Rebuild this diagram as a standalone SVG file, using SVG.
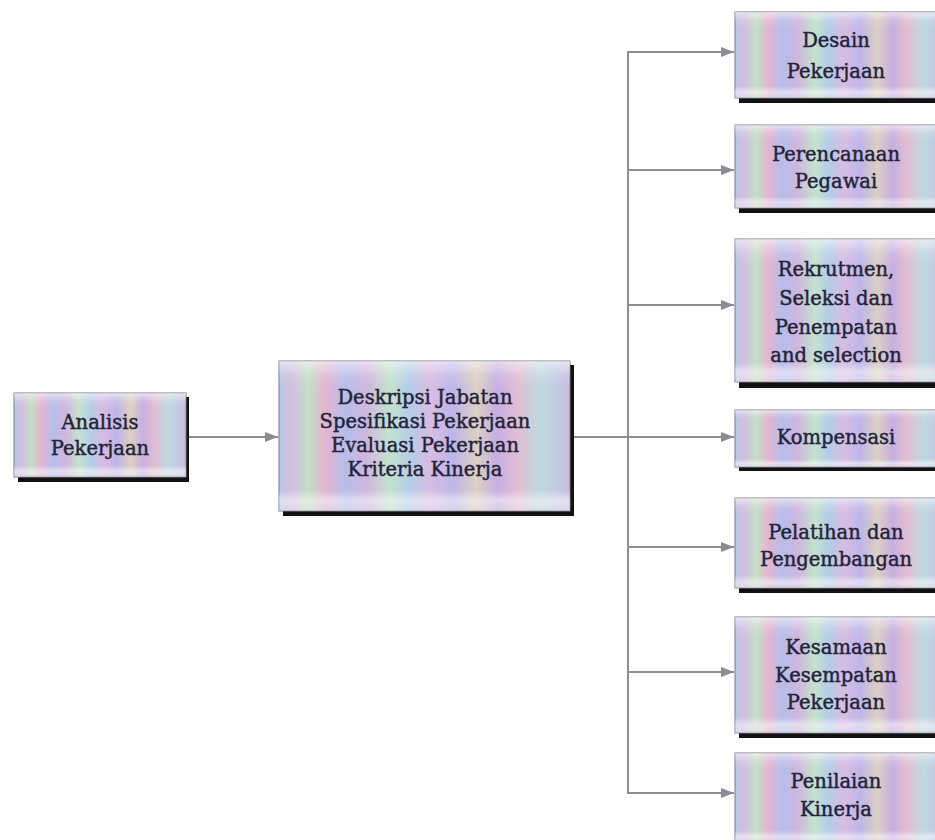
<svg xmlns="http://www.w3.org/2000/svg" width="935" height="840" viewBox="0 0 935 840">
<style>
.box{stroke:#7a7a86;stroke-width:1}
.shadow{fill:#111}
.gloss{fill:url(#gloss)}
.lbl{font-family:"DejaVu Serif","Liberation Serif",serif;font-size:19.5px;fill:#23233a;stroke:#23233a;stroke-width:0.45;text-anchor:middle}
.conn{stroke:#8c8c94;stroke-width:2;fill:none}
</style>
<defs>
<linearGradient id="rainbow" x1="0" y1="0" x2="1" y2="0">
<stop offset="0" stop-color="#b8c6e2"/>
<stop offset="0.05" stop-color="#d4bee2"/>
<stop offset="0.1" stop-color="#c2e0c6"/>
<stop offset="0.16" stop-color="#e4b4d0"/>
<stop offset="0.23" stop-color="#b4beea"/>
<stop offset="0.3" stop-color="#d0b6df"/>
<stop offset="0.38" stop-color="#c4e2cc"/>
<stop offset="0.45" stop-color="#b4cce8"/>
<stop offset="0.52" stop-color="#d8bce2"/>
<stop offset="0.6" stop-color="#beb6ea"/>
<stop offset="0.68" stop-color="#dcd0c0"/>
<stop offset="0.75" stop-color="#c6aee2"/>
<stop offset="0.82" stop-color="#e2bed2"/>
<stop offset="0.9" stop-color="#bed8e0"/>
<stop offset="1" stop-color="#c8bee2"/>
</linearGradient>
<linearGradient id="gloss" x1="0" y1="0" x2="0" y2="1">
<stop offset="0" stop-color="#ffffff" stop-opacity="0.55"/>
<stop offset="0.1" stop-color="#ffffff" stop-opacity="0.12"/>
<stop offset="0.18" stop-color="#ffffff" stop-opacity="0"/>
<stop offset="0.86" stop-color="#ffffff" stop-opacity="0"/>
<stop offset="0.93" stop-color="#ffffff" stop-opacity="0.5"/>
<stop offset="1" stop-color="#ffffff" stop-opacity="0.3"/>
</linearGradient>
<marker id="arr" markerUnits="userSpaceOnUse" markerWidth="14" markerHeight="12" refX="13" refY="6" orient="auto">
<path d="M0,1 L13,6 L0,11 Z" fill="#8c8c94"/>
</marker>
</defs>
<rect width="935" height="840" fill="#ffffff"/>

<g id="connectors">
<line class="conn" x1="189" y1="437" x2="278" y2="437" marker-end="url(#arr)"/>
<line class="conn" x1="573" y1="437" x2="734" y2="437" marker-end="url(#arr)"/>
<line class="conn" x1="628" y1="52" x2="628" y2="793"/>
<line class="conn" x1="627" y1="52" x2="734" y2="52" marker-end="url(#arr)"/>
<line class="conn" x1="627" y1="170" x2="734" y2="170" marker-end="url(#arr)"/>
<line class="conn" x1="627" y1="305" x2="734" y2="305" marker-end="url(#arr)"/>
<line class="conn" x1="627" y1="547" x2="734" y2="547" marker-end="url(#arr)"/>
<line class="conn" x1="627" y1="672" x2="734" y2="672" marker-end="url(#arr)"/>
<line class="conn" x1="627" y1="793" x2="734" y2="793" marker-end="url(#arr)"/>
</g>

<g id="analisis">
<rect class="shadow" x="18" y="397" width="171" height="85"/>
<rect class="box" x="14" y="393" width="172" height="84" fill="url(#rainbow)"/>
<rect class="gloss" x="14" y="393" width="172" height="84"/>
<text class="lbl" x="100" y="429">Analisis</text>
<text class="lbl" x="100" y="455">Pekerjaan</text>
</g>

<g id="deskripsi">
<rect class="shadow" x="283" y="365" width="291" height="151"/>
<rect class="box" x="279" y="361" width="291" height="150" fill="url(#rainbow)"/>
<rect class="gloss" x="279" y="361" width="291" height="150"/>
<text class="lbl" x="425" y="404">Deskripsi Jabatan</text>
<text class="lbl" x="425" y="428">Spesifikasi Pekerjaan</text>
<text class="lbl" x="425" y="452">Evaluasi Pekerjaan</text>
<text class="lbl" x="425" y="476">Kriteria Kinerja</text>
</g>

<g id="desain">
<rect class="shadow" x="739" y="16" width="210" height="87"/>
<rect class="box" x="735" y="12" width="210" height="86" fill="url(#rainbow)"/>
<rect class="gloss" x="735" y="12" width="210" height="86"/>
<text class="lbl" x="836" y="47">Desain</text>
<text class="lbl" x="836" y="78">Pekerjaan</text>
</g>

<g id="perencanaan">
<rect class="shadow" x="739" y="129" width="210" height="84"/>
<rect class="box" x="735" y="125" width="210" height="83" fill="url(#rainbow)"/>
<rect class="gloss" x="735" y="125" width="210" height="83"/>
<text class="lbl" x="836" y="161">Perencanaan</text>
<text class="lbl" x="836" y="188">Pegawai</text>
</g>

<g id="rekrutmen">
<rect class="shadow" x="739" y="243" width="210" height="145"/>
<rect class="box" x="735" y="239" width="210" height="143" fill="url(#rainbow)"/>
<rect class="gloss" x="735" y="239" width="210" height="143"/>
<text class="lbl" x="836" y="276">Rekrutmen,</text>
<text class="lbl" x="836" y="305">Seleksi dan</text>
<text class="lbl" x="836" y="334">Penempatan</text>
<text class="lbl" x="836" y="362">and selection</text>
</g>

<g id="kompensasi">
<rect class="shadow" x="739" y="414" width="210" height="57"/>
<rect class="box" x="735" y="410" width="210" height="57" fill="url(#rainbow)"/>
<rect class="gloss" x="735" y="410" width="210" height="57"/>
<text class="lbl" x="836" y="444">Kompensasi</text>
</g>

<g id="pelatihan">
<rect class="shadow" x="739" y="502" width="210" height="91"/>
<rect class="box" x="735" y="498" width="210" height="90" fill="url(#rainbow)"/>
<rect class="gloss" x="735" y="498" width="210" height="90"/>
<text class="lbl" x="836" y="539">Pelatihan dan</text>
<text class="lbl" x="836" y="566">Pengembangan</text>
</g>

<g id="kesamaan">
<rect class="shadow" x="739" y="621" width="210" height="117"/>
<rect class="box" x="735" y="617" width="210" height="116" fill="url(#rainbow)"/>
<rect class="gloss" x="735" y="617" width="210" height="116"/>
<text class="lbl" x="836" y="654">Kesamaan</text>
<text class="lbl" x="836" y="682">Kesempatan</text>
<text class="lbl" x="836" y="709">Pekerjaan</text>
</g>

<g id="penilaian">
<rect class="shadow" x="739" y="757" width="210" height="90"/>
<rect class="box" x="735" y="753" width="210" height="90" fill="url(#rainbow)"/>
<rect class="gloss" x="735" y="753" width="210" height="90"/>
<text class="lbl" x="836" y="788">Penilaian</text>
<text class="lbl" x="836" y="816">Kinerja</text>
</g>
</svg>
